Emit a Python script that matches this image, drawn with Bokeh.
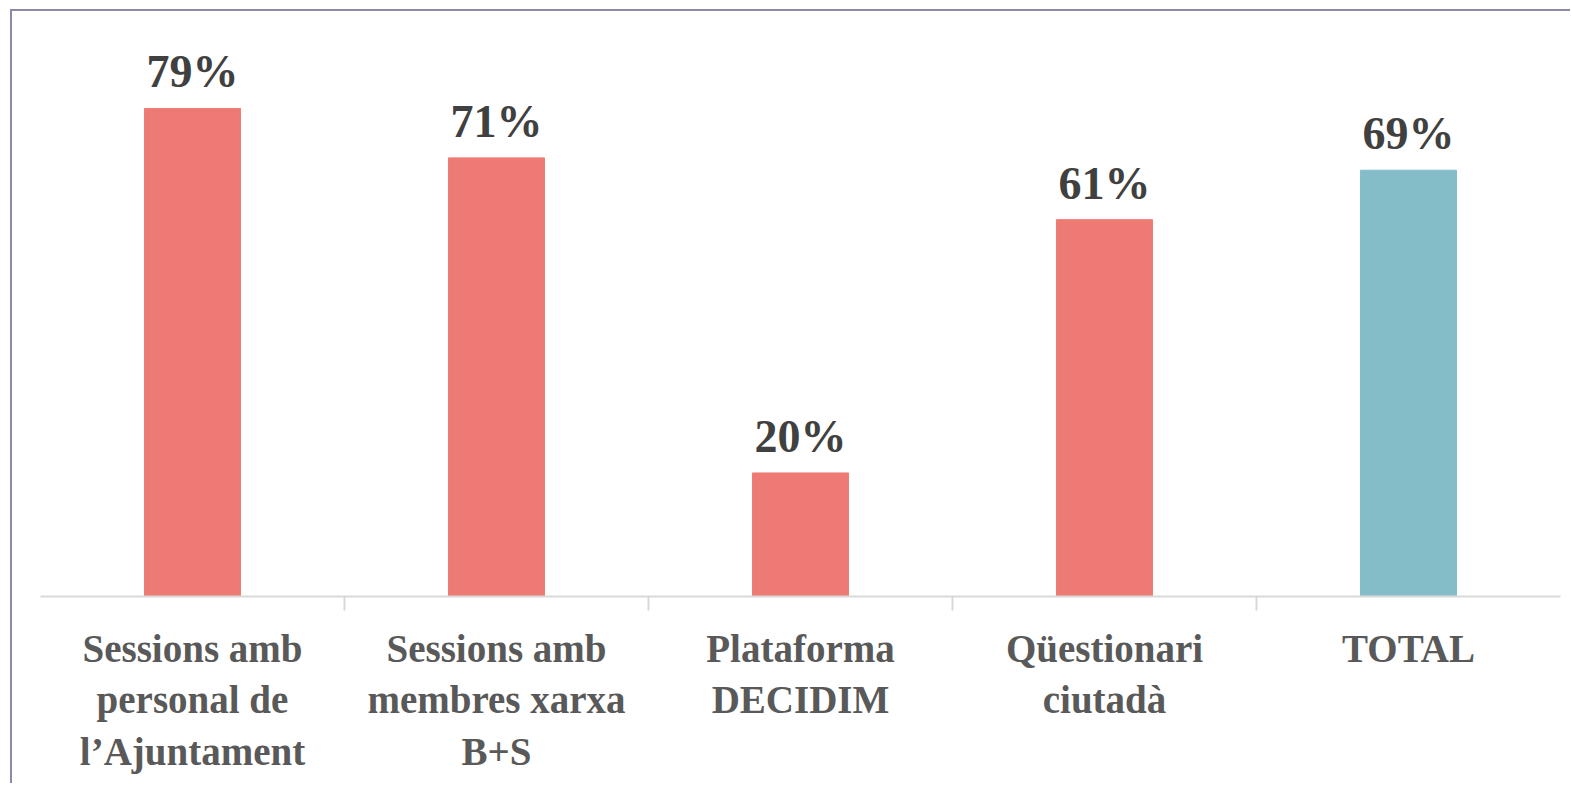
from bokeh.plotting import figure
from bokeh.models import (ColumnDataSource, LabelSet, Range1d, FactorRange,
                          CategoricalAxis)
from bokeh.embed import file_html
from bokeh.resources import INLINE

categories = ["Sessions amb\npersonal de\nl\u2019Ajuntament",
              "Sessions amb\nmembres xarxa\nB+S",
              "Plataforma\nDECIDIM",
              "Q\u00fcestionari\nciutad\u00e0",
              "TOTAL"]
values = [79, 71, 20, 61, 69]
labels = ["79%", "71%", "20%", "61%", "69%"]
colors = ["#EE7B73", "#EE7B73", "#EE7B73", "#EE7B73", "#84BCC8"]

src = ColumnDataSource(dict(cat=categories, val=values, lab=labels, col=colors))

p = figure(x_range=categories, y_range=Range1d(0, 90), width=1560, height=774,
           output_backend="svg", toolbar_location=None,
           min_border_left=28, min_border_right=12, min_border_top=29,
           min_border_bottom=189, x_axis_location=None, y_axis_location=None)
p.styles = {"margin-left": "10px", "margin-top": "9px",
            "border-left": "2.5px solid #8a89a6", "border-top": "2.5px solid #8a89a6",
            "box-sizing": "border-box"}
p.outline_line_color = None
p.xgrid.visible = False
p.ygrid.visible = False

p.vbar(x="cat", top="val", width=0.316, color="col", source=src)

p.add_layout(LabelSet(x="cat", y="val", text="lab", source=src, y_offset=21,
                      text_align="center", text_baseline="alphabetic",
                      text_font="Liberation Serif", text_font_style="bold",
                      text_font_size="46px", text_color="#404040"))

# boundary ticks axis: a shifted factor range whose centres fall on category boundaries
bounds = ["b%d" % i for i in range(len(categories) + 1)]
p.extra_x_ranges = {"bounds": FactorRange(factors=bounds, range_padding=-0.5,
                                          range_padding_units="absolute")}
tick_axis = CategoricalAxis(x_range_name="bounds",
                            axis_line_color="#d9d9d9", axis_line_width=2,
                            major_tick_line_color="#d9d9d9", major_tick_line_width=2,
                            major_tick_in=0, major_tick_out=14,
                            minor_tick_line_color=None,
                            major_label_text_font_size="0px",
                            major_label_text_color=None,
                            major_label_standoff=0)
p.add_layout(tick_axis, "below")

cat_axis = CategoricalAxis(axis_line_color=None, major_tick_line_color=None,
                           minor_tick_line_color=None,
                           major_label_text_font="Liberation Serif",
                           major_label_text_font_style="bold",
                           major_label_text_font_size="39px",
                           major_label_text_color="#595959",
                           major_label_standoff=10)
p.add_layout(cat_axis, "below")

open("out.html", "w").write(file_html(p, INLINE))
